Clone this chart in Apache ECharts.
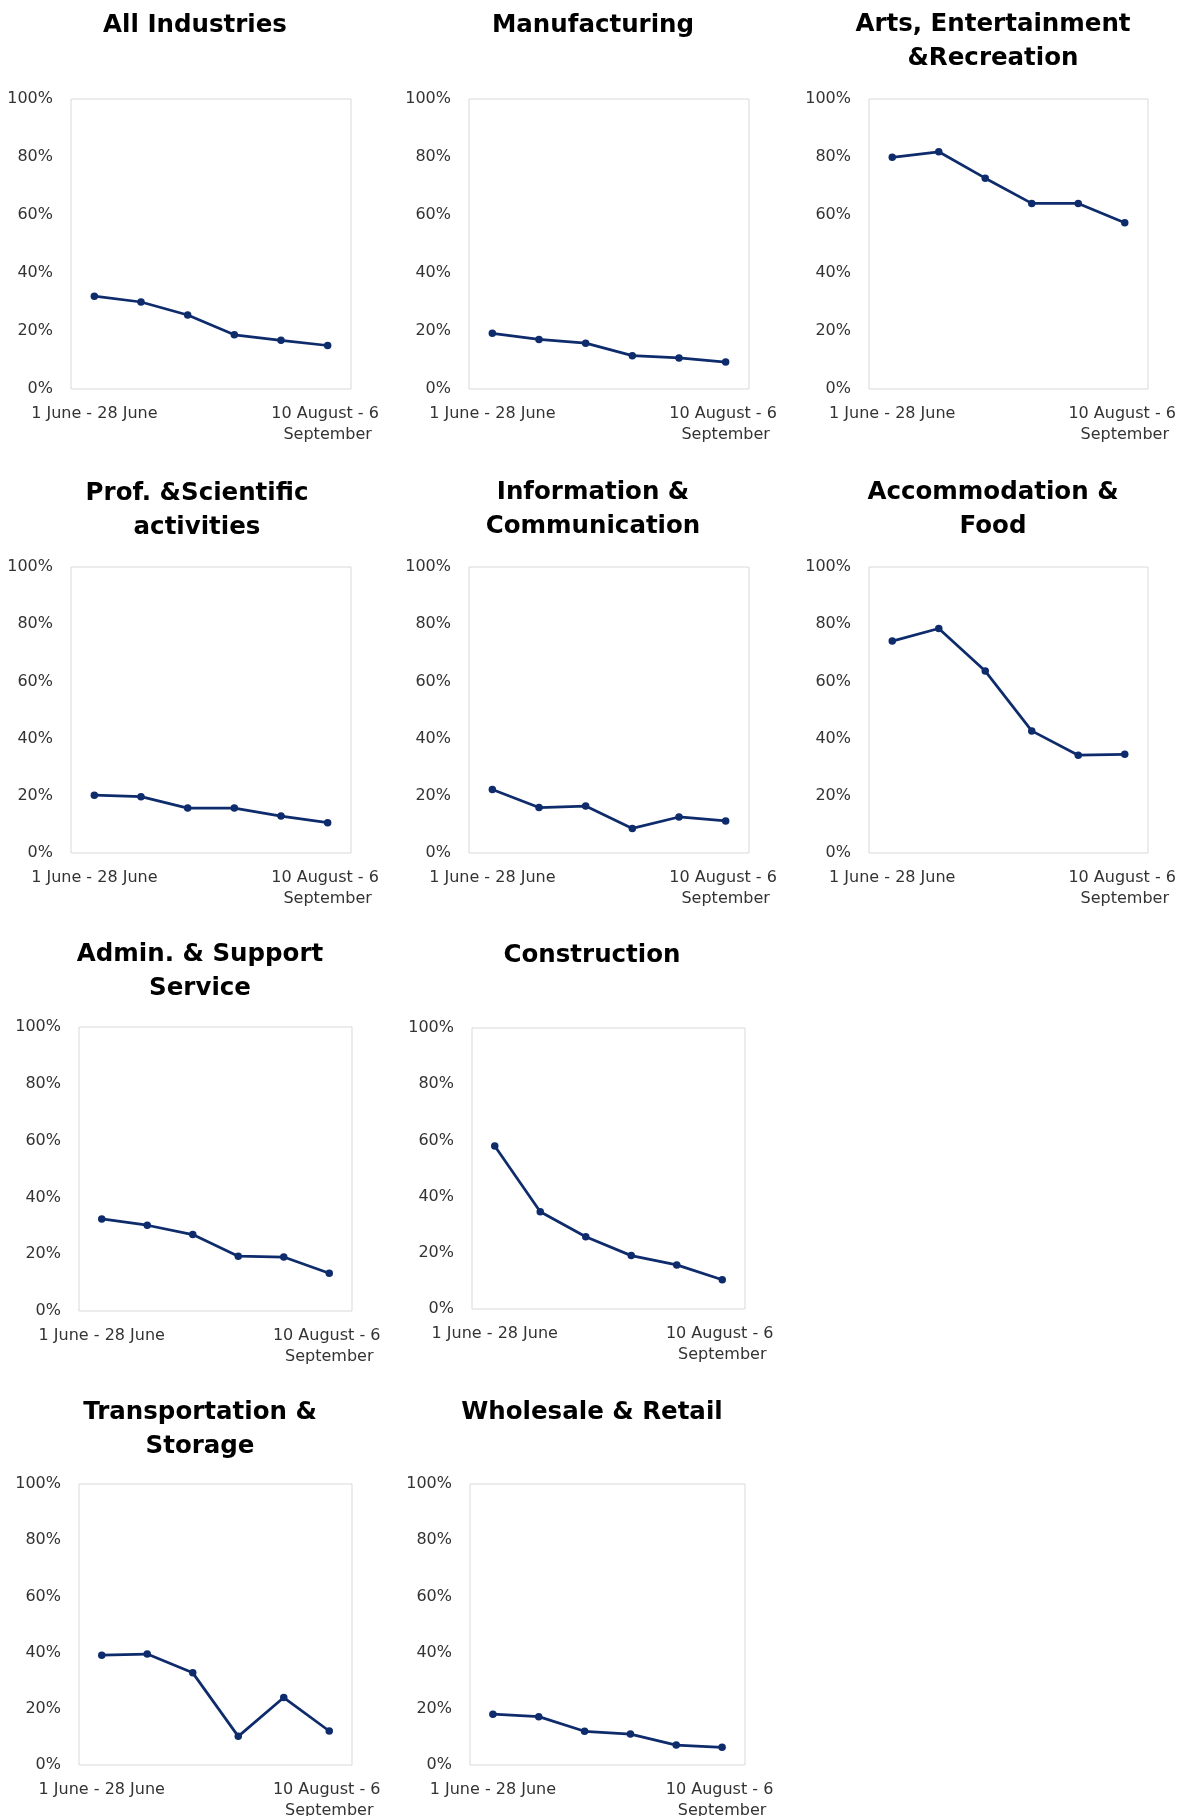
<!DOCTYPE html>
<html>
<head>
<meta charset="utf-8">
<script src="https://cdn.jsdelivr.net/npm/echarts@6/dist/echarts.min.js"></script>
<style>
  html, body { margin: 0; padding: 0; background: #ffffff; }
  #chart { width: 1188px; height: 1816px; }
</style>
</head>
<body>
<div id="chart"></div>
<script>
// Four-week periods, stepping two weeks at a time
const periods = [
  '1 June - 28 June',
  '15 June - 12 July',
  '29 June - 26 July',
  '13 July - 9 August',
  '27 July - 23 August',
  '10 August - 6 September'
];

// Share of businesses (%) per period, by industry
const allIndustries   = [32.0, 30.0, 25.5, 18.7, 16.8, 15.0];
const manufacturing   = [19.2, 17.1, 15.8, 11.5, 10.7, 9.3];
const artsEntertain   = [79.9, 81.8, 72.7, 64.0, 64.0, 57.3];
const profScientific  = [20.2, 19.7, 15.7, 15.7, 12.9, 10.6];
const infoComm        = [22.2, 15.9, 16.4, 8.6, 12.6, 11.2];
const accommodation   = [74.1, 78.5, 63.6, 42.7, 34.2, 34.5];
const adminSupport    = [32.4, 30.2, 26.9, 19.3, 19.0, 13.3];
const construction    = [58.0, 34.6, 25.7, 19.0, 15.7, 10.4];
const transportation  = [39.1, 39.5, 32.8, 10.2, 24.0, 12.1];
const wholesaleRetail = [18.1, 17.2, 12.0, 11.0, 7.1, 6.3];

const panelTitles = [
  'All Industries',
  'Manufacturing',
  'Arts, Entertainment\n&Recreation',
  'Prof. &Scientific\nactivities',
  'Information &\nCommunication',
  'Accommodation &\nFood',
  'Admin. & Support\nService',
  'Construction',
  'Transportation &\nStorage',
  'Wholesale & Retail'
];
const panelSeries = [
  allIndustries, manufacturing, artsEntertain,
  profScientific, infoComm, accommodation,
  adminSupport, construction,
  transportation, wholesaleRetail
];

// y-axis scale
const yMin = 0, yMax = 100, yStep = 20;

// Panel geometry: plot rectangle and title anchor (centre x, top y)
const layout = [
  { l: 71,  t: 99,   w: 280, h: 290, tx: 195, ty: 9 },
  { l: 469, t: 99,   w: 280, h: 290, tx: 593, ty: 9 },
  { l: 869, t: 99,   w: 279, h: 290, tx: 993, ty: 8 },
  { l: 71,  t: 567,  w: 280, h: 286, tx: 197, ty: 477 },
  { l: 469, t: 567,  w: 280, h: 286, tx: 593, ty: 476 },
  { l: 869, t: 567,  w: 279, h: 286, tx: 993, ty: 476 },
  { l: 79,  t: 1027, w: 273, h: 284, tx: 200, ty: 938 },
  { l: 472, t: 1028, w: 273, h: 281, tx: 592, ty: 939 },
  { l: 79,  t: 1484, w: 273, h: 281, tx: 200, ty: 1396 },
  { l: 470, t: 1484, w: 275, h: 281, tx: 592, ty: 1396 }
];

const FONT = '"DejaVu Sans", "Liberation Sans", Arial, sans-serif';
const LINE_COLOR = '#0e2b6c';
const LABEL_COLOR = '#333333';

const titles = [], grids = [], xAxes = [], yAxes = [], series = [];

layout.forEach((p, i) => {
  titles.push({
    text: panelTitles[i],
    left: p.tx,
    top: p.ty,
    padding: 0,
    textAlign: 'center',
    textVerticalAlign: 'top',
    textStyle: {
      fontFamily: FONT,
      fontSize: 24.5,
      fontWeight: 'bold',
      color: '#000000',
      lineHeight: 34
    }
  });
  grids.push({
    left: p.l, top: p.t, width: p.w, height: p.h,
    containLabel: false,
    outerBoundsMode: 'none',
    show: true,
    borderColor: '#d9d9d9',
    borderWidth: 1,
    backgroundColor: 'transparent'
  });
  xAxes.push({
    type: 'category',
    gridIndex: i,
    data: periods,
    boundaryGap: true,
    axisLine: { show: false },
    axisTick: { show: false },
    splitLine: { show: false },
    axisLabel: {
      interval: 4,
      margin: 14,
      fontFamily: FONT,
      fontSize: 16,
      lineHeight: 21,
      color: LABEL_COLOR,
      width: 140,
      overflow: 'break'
    }
  });
  yAxes.push({
    type: 'value',
    gridIndex: i,
    min: yMin,
    max: yMax,
    interval: yStep,
    axisLine: { show: false },
    axisTick: { show: false },
    splitLine: { show: false },
    axisLabel: {
      margin: 18,
      fontFamily: FONT,
      fontSize: 16,
      color: LABEL_COLOR,
      formatter: '{value}%'
    }
  });
  series.push({
    type: 'line',
    xAxisIndex: i,
    yAxisIndex: i,
    data: panelSeries[i],
    symbol: 'circle',
    symbolSize: 7.5,
    showSymbol: true,
    lineStyle: { color: LINE_COLOR, width: 2.75 },
    itemStyle: { color: LINE_COLOR },
    animation: false
  });
});

const chart = echarts.init(document.getElementById('chart'), null, { renderer: 'canvas' });
chart.setOption({
  backgroundColor: '#ffffff',
  animation: false,
  title: titles,
  grid: grids,
  xAxis: xAxes,
  yAxis: yAxes,
  series: series
});
</script>
</body>
</html>
